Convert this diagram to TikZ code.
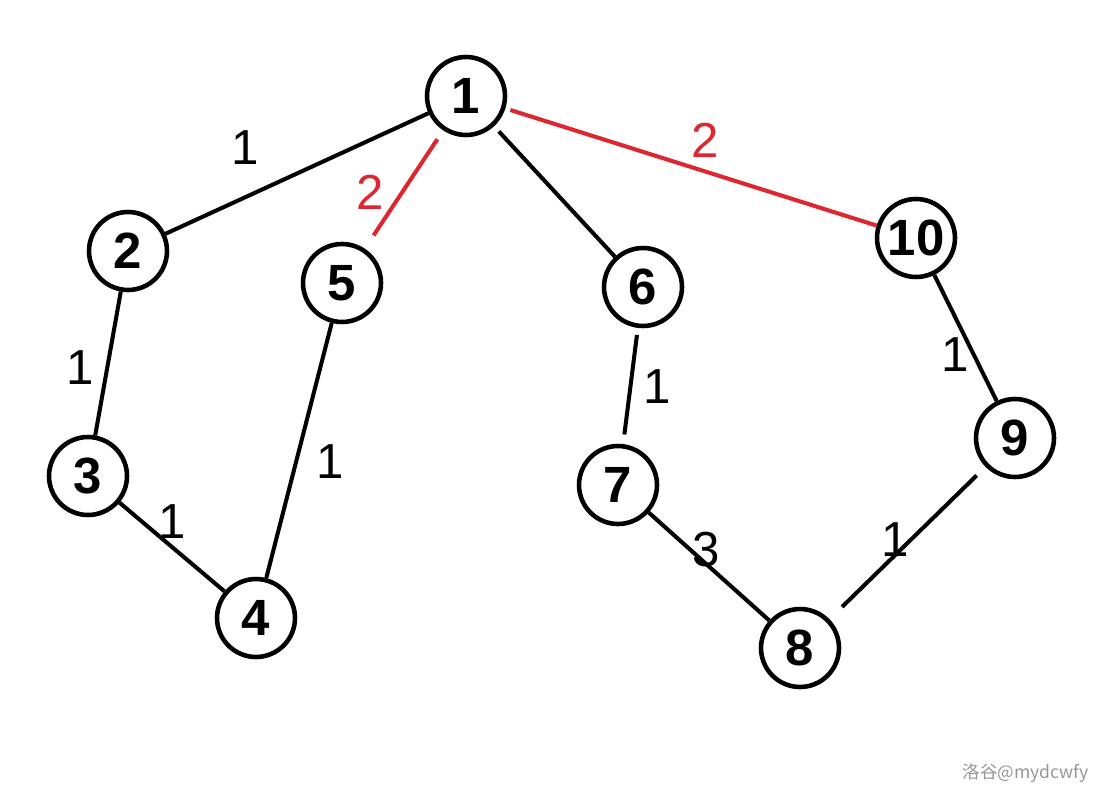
\documentclass[tikz,border=0pt]{standalone}
\usepackage{fontspec}
\setmainfont{Liberation Sans}
\newfontfamily\cjkfont{Noto Sans CJK SC}
\usetikzlibrary{positioning}
\definecolor{mstred}{RGB}{222,38,48}
\definecolor{markgray}{RGB}{150,150,150}

\begin{document}
\begin{tikzpicture}[x=0.02cm, y=-0.02cm,
    vertex/.style={circle, draw, line width=2.6pt, minimum size=1.56cm, inner sep=0pt, font=\fontsize{29}{30}\selectfont\bfseries},
    edge/.style={line width=2.3pt},
    picked/.style={edge, draw=mstred},
    weight/.style={font=\fontsize{28}{30}\selectfont, inner sep=0pt}]
    \useasboundingbox (0,0) rectangle (1108,800);
    % Vertices (named v1..v10)
    \foreach \n/\x/\y in {1/466/96, 2/128/251, 3/88/476, 4/256/618, 5/342/283,
                          6/643/287, 7/618/485, 8/800/648, 9/1015/438, 10/916/238} {
      \node[vertex] (v\n) at (\x,\y) {\n};
    }
    % Tree edges
    \draw[edge] (v1) -- (v2);
    \draw[edge, shorten <=4pt] (v1) -- (v6);
    \draw[edge] (v2) -- (v3);
    \draw[edge] (v3) -- (v4);
    \draw[edge] (v5) -- (v4);
    \draw[edge, shorten <=4pt, shorten >=5.5pt] (v6) -- (v7);
    \draw[edge] (v7) -- (v8);
    \draw[edge] (v10) -- (v9);
    \draw[edge, shorten <=7pt, shorten >=10pt] (v9) -- (v8);
    % Chosen edges in red
    \draw[picked, shorten <=6pt, shorten >=9pt] (v1) -- (v5);
    \draw[picked, shorten <=3pt] (v1) -- (v10);
    % Edge weights
    \foreach \i/\lab/\c/\x/\y in {1/1/black/245/148, 2/2/mstred/370/192, 3/2/mstred/705/140,
                                  4/1/black/80/368, 5/1/black/330/462, 6/1/black/172/522,
                                  7/1/black/657/387, 8/3/black/706/550, 9/1/black/955/355,
                                  10/1/black/895/540} {
      \node[weight, text=\c] (w\i) at (\x,\y) {\lab};
    }
    % Watermark
    \node[font=\cjkfont\fontsize{10}{12}\selectfont, text=markgray, anchor=east] (mark) at (1095,773) {洛谷@mydcwfy};
\end{tikzpicture}
\end{document}
